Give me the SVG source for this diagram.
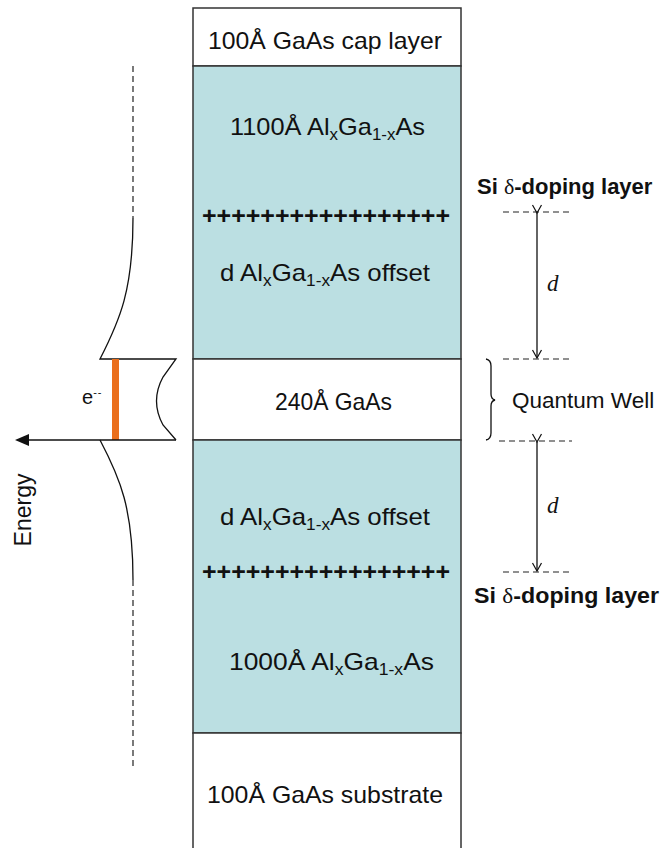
<svg xmlns="http://www.w3.org/2000/svg" width="663" height="848" viewBox="0 0 663 848">
<style>
.t{font-family:"Liberation Sans",Arial,sans-serif;font-size:24px;fill:#111}
.sub{font-size:16px}
.plus{font-family:"Liberation Sans",Arial,sans-serif;font-size:24px;font-weight:bold;fill:#111}
.lbl{font-family:"Liberation Sans",Arial,sans-serif;font-size:22px;font-weight:bold;fill:#111}
.dl{stroke:#222;stroke-width:1.2;stroke-dasharray:6,4;fill:none}
.ln{stroke:#111;stroke-width:1.3;fill:none}
.dvar{font-family:"Liberation Serif","Times New Roman",serif;font-style:italic;font-size:23px;fill:#111}
.teal{fill:#bbdfe2;stroke:#333;stroke-width:1.5}
.wht{fill:#fff;stroke:#333;stroke-width:1.5}
</style>
<defs>
<marker id="ah" markerWidth="12" markerHeight="12" refX="9" refY="6" orient="auto" markerUnits="userSpaceOnUse">
<path d="M1,1.5 L9,6 L1,10.5" fill="none" stroke="#111" stroke-width="1.2"/>
</marker>
</defs>
<rect width="663" height="848" fill="#fff"/>

<g id="cap-layer">
<rect class="wht" x="193" y="8" width="268" height="58"/>
<text class="t" x="208" y="49" textLength="234" lengthAdjust="spacingAndGlyphs">100Å GaAs cap layer</text>
</g>
<g id="upper-algaas">
<rect class="teal" x="193" y="66" width="268" height="293"/>
<text class="t" x="230" y="135" textLength="195" lengthAdjust="spacingAndGlyphs">1100Å Al<tspan class="sub" dy="5">x</tspan><tspan dy="-5">Ga</tspan><tspan class="sub" dy="5">1-x</tspan><tspan dy="-5">As</tspan></text>
<text class="plus" x="202" y="224" textLength="248" lengthAdjust="spacingAndGlyphs">+++++++++++++++++</text>
<text class="t" x="220" y="281" textLength="210" lengthAdjust="spacingAndGlyphs">d Al<tspan class="sub" dy="5">x</tspan><tspan dy="-5">Ga</tspan><tspan class="sub" dy="5">1-x</tspan><tspan dy="-5">As offset</tspan></text>
</g>
<g id="gaas-well">
<rect class="wht" x="193" y="359" width="268" height="81"/>
<text class="t" x="275" y="410" textLength="117" lengthAdjust="spacingAndGlyphs">240Å GaAs</text>
</g>
<g id="lower-algaas">
<rect class="teal" x="193" y="440" width="268" height="293"/>
<text class="t" x="220" y="525" textLength="210" lengthAdjust="spacingAndGlyphs">d Al<tspan class="sub" dy="5">x</tspan><tspan dy="-5">Ga</tspan><tspan class="sub" dy="5">1-x</tspan><tspan dy="-5">As offset</tspan></text>
<text class="plus" x="202" y="580" textLength="248" lengthAdjust="spacingAndGlyphs">+++++++++++++++++</text>
<text class="t" x="229" y="670" textLength="205" lengthAdjust="spacingAndGlyphs">1000Å Al<tspan class="sub" dy="5">x</tspan><tspan dy="-5">Ga</tspan><tspan class="sub" dy="5">1-x</tspan><tspan dy="-5">As</tspan></text>
</g>
<g id="substrate">
<rect class="wht" x="193" y="733" width="268" height="125"/>
<text class="t" x="207" y="803" textLength="236" lengthAdjust="spacingAndGlyphs">100Å GaAs substrate</text>
</g>

<g id="energy-profile">
<path class="dl" d="M133,66 L133,218" stroke-dasharray="4,3"/>
<path class="ln" d="M133,218 C133,290 120,320 100,359 L176,359 L163,377 Q150,401 163,425 L176,440"/>
<path class="ln" d="M100,440 C120,478 133,508 133,580"/>
<path class="dl" d="M133,580 L133,770" stroke-dasharray="4,3"/>
<rect x="112" y="359" width="7" height="81" fill="#ea6f1c"/>
<text x="82" y="404" font-family="Liberation Sans,Arial,sans-serif" font-size="20" fill="#111">e<tspan font-size="11" dy="-8" letter-spacing="1">--</tspan></text>
</g>
<g id="energy-axis">
<line class="ln" x1="176" y1="440" x2="26" y2="440"/>
<polygon points="15,440 29,434 29,446" fill="#111"/>
<text transform="translate(31,510) rotate(-90)" text-anchor="middle" font-family="Liberation Sans,Arial,sans-serif" font-size="23" fill="#111">Energy</text>
</g>

<g id="connectors">
<line class="dl" x1="503" y1="212" x2="572" y2="212"/>
<line class="dl" x1="503" y1="359" x2="572" y2="359"/>
<line class="dl" x1="499" y1="441" x2="572" y2="441"/>
<line class="dl" x1="503" y1="572" x2="573" y2="572"/>
<line class="ln" x1="537" y1="213" x2="537" y2="358" marker-start="url(#ah)" marker-end="url(#ah)"/>
<line class="ln" x1="537" y1="442" x2="537" y2="571" marker-start="url(#ah)" marker-end="url(#ah)"/>
<path class="ln" stroke-width="1.1" d="M486,359 Q491,360 491,366 L491,394 Q491,399 495,400 Q491,401 491,406 L491,433 Q491,439 486,440"/>
</g>

<g id="labels">
<text class="lbl" x="477" y="194">Si <tspan font-family="Liberation Serif,Times New Roman,serif" font-weight="normal">δ</tspan>-doping layer</text>
<text class="dvar" x="547" y="291">d</text>
<text x="512" y="408" font-family="Liberation Sans,Arial,sans-serif" font-size="22.5" fill="#111">Quantum Well</text>
<text class="dvar" x="547" y="513">d</text>
<text class="lbl" x="474" y="603" textLength="185" lengthAdjust="spacingAndGlyphs">Si <tspan font-family="Liberation Serif,Times New Roman,serif" font-weight="normal">δ</tspan>-doping layer</text>
</g>
</svg>
